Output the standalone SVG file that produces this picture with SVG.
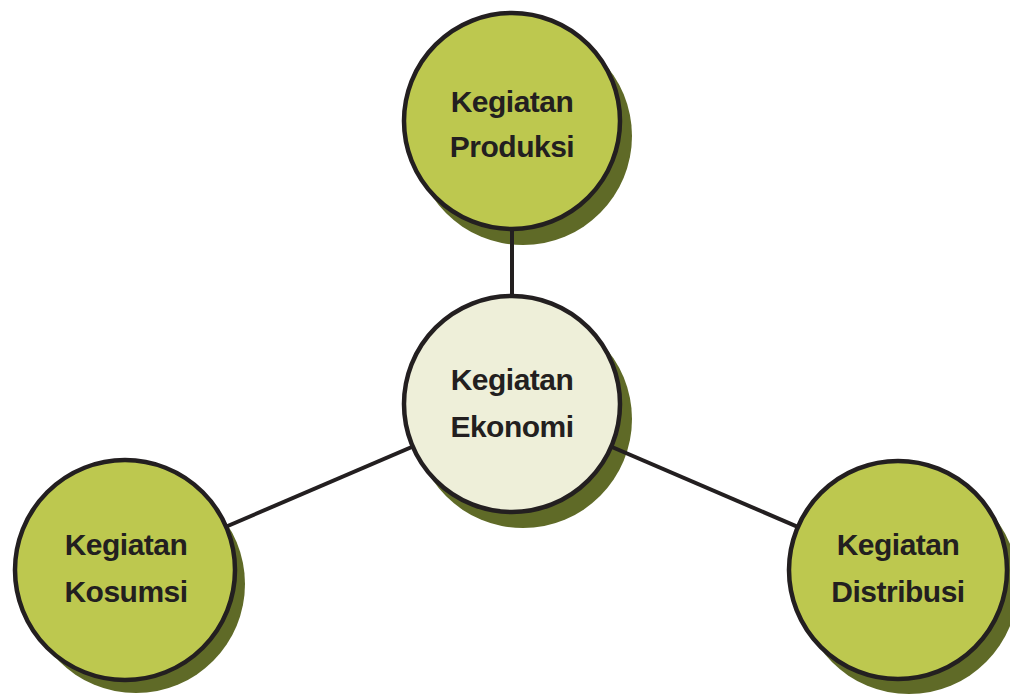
<svg xmlns="http://www.w3.org/2000/svg" width="1010" height="695" viewBox="0 0 1010 695">
<style>
.shadow{fill:#5f6a27}
.node{fill:#bdc84f;stroke:#231f20;stroke-width:4.5}
.center{fill:#eeefd9;stroke:#231f20;stroke-width:4.5}
.edge{stroke:#231f20;stroke-width:4;fill:none}
text{font-family:"Liberation Sans",Arial,sans-serif;font-weight:bold;font-size:30px;letter-spacing:-0.5px;fill:#231f20;text-anchor:middle}
</style>
<rect width="1010" height="695" fill="#ffffff"/>
<g id="shadows">
<circle class="shadow" cx="523" cy="136" r="109"/>
<circle class="shadow" cx="523" cy="419" r="109"/>
<circle class="shadow" cx="136" cy="584" r="109"/>
<circle class="shadow" cx="909" cy="585" r="109"/>
</g>
<g id="connectors">
<line class="edge" x1="512" y1="121" x2="512" y2="404"/>
<line class="edge" x1="512" y1="404" x2="125" y2="570"/>
<line class="edge" x1="512" y1="404" x2="898" y2="570"/>
</g>
<g id="produksi">
<circle class="node" cx="512" cy="121" r="108"/>
<text x="512" y="112">Kegiatan</text>
<text x="512" y="157">Produksi</text>
</g>
<g id="ekonomi">
<circle class="center" cx="512" cy="404" r="108"/>
<text x="512" y="390">Kegiatan</text>
<text x="512" y="437">Ekonomi</text>
</g>
<g id="konsumsi">
<circle class="node" cx="125" cy="570" r="110"/>
<text x="126" y="555">Kegiatan</text>
<text x="126" y="602">Kosumsi</text>
</g>
<g id="distribusi">
<circle class="node" cx="898" cy="570" r="109"/>
<text x="898" y="555">Kegiatan</text>
<text x="898" y="602">Distribusi</text>
</g>
</svg>
